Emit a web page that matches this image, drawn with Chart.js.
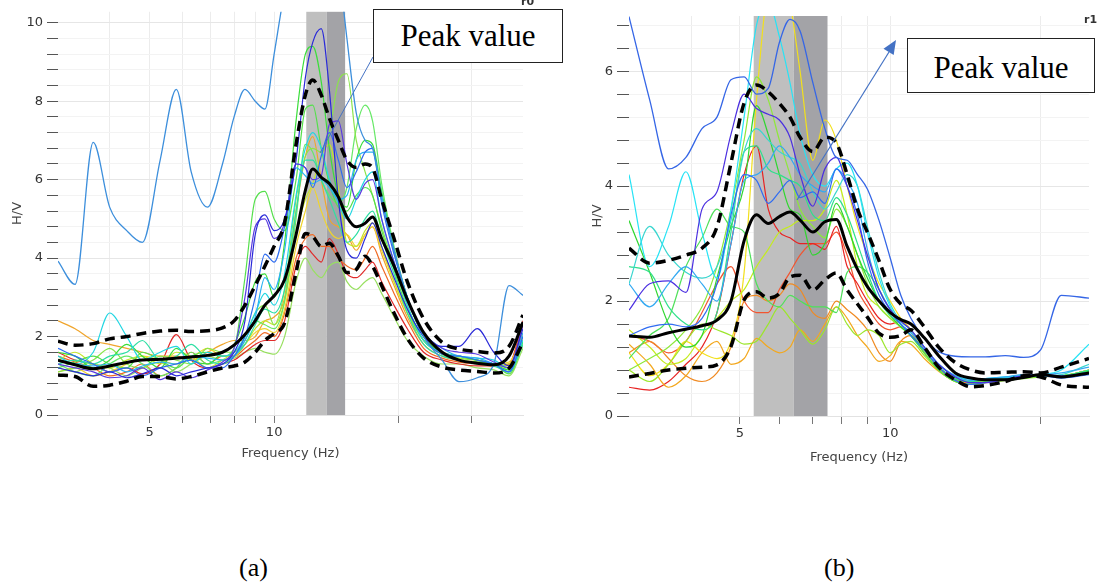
<!DOCTYPE html>
<html>
<head>
<meta charset="utf-8">
<script src="https://cdn.jsdelivr.net/npm/chart.js@4.4.0/dist/chart.umd.min.js"></script>
<style>
  html, body { margin: 0; padding: 0; background: #fff; }
  body { width: 1100px; height: 586px; position: relative; overflow: hidden; }
  #chartA { position: absolute; left: 0; top: 0; }
  #chartB { position: absolute; left: 580px; top: 0; }
  .box { position: absolute; z-index: 6; box-sizing: border-box; border: 1.5px solid #222; background: #fff;
         font-family: 'Liberation Serif', 'Times New Roman', serif; font-size: 31px; color: #000;
         display: flex; align-items: center; justify-content: center; }
  .cap { position: absolute; font-family: 'Liberation Serif', 'Times New Roman', serif; font-size: 26px; color: #000; }
  .tag { position: absolute; font-family: 'DejaVu Sans', sans-serif; font-size: 11px; font-weight: bold; color: #333; }
  svg { position: absolute; left: 0; top: 0; z-index: 5; pointer-events: none; }
</style>
</head>
<body>
<canvas id="chartA" width="540" height="470"></canvas>
<canvas id="chartB" width="520" height="470"></canvas>

<svg width="1100" height="586">
  <line x1="373" y1="57" x2="320" y2="153" stroke="#4472c4" stroke-width="1"/>
  <line x1="797" y1="200" x2="889" y2="52" stroke="#4472c4" stroke-width="1.2"/>
  <polygon points="896,40 893.7,55.1 883.5,48.7" fill="#4472c4"/>
</svg>

<div class="box" style="left:373px;top:9px;width:190px;height:54px;">Peak value</div>
<div class="box" style="left:907px;top:38px;width:188px;height:55px;padding-top:4px;">Peak value</div>
<div class="tag" style="left:521px;top:-5px;">r0</div>
<div class="tag" style="left:1084px;top:13px;">r1</div>
<div class="cap" style="left:239px;top:553px;">(a)</div>
<div class="cap" style="left:824px;top:553px;">(b)</div>

<script>
// ---------- panel (a) ----------
const FREQ_A = [3, 3.3, 3.65, 4, 4.4, 4.8, 5.3, 5.8, 6.3, 6.9, 7.5, 8, 8.5, 9, 9.5, 10, 10.6, 11.3, 11.9, 12.4,
                13, 13.6, 14.3, 15, 15.8, 16.6, 17.3, 18.2, 19.5, 21, 23, 25.5, 28, 31, 34, 37, 40];
const MEAN_A  = [1.40,1.28,1.18,1.25,1.34, 1.40,1.42,1.45,1.48,1.52, 1.60,1.78,2.05,2.40,2.80, 3.04,3.45,4.60,5.73,6.27,
                 6.06,5.90,5.56,5.05,4.80, 4.89,5.05,4.50,3.80,2.95, 2.10,1.60,1.40,1.32,1.28, 1.50,2.37];
const UPPER_A = [1.88,1.78,1.82,1.94,2.00, 2.08,2.14,2.16,2.13,2.15, 2.22,2.40,2.80,3.30,3.80, 4.30,4.90,6.90,8.16,8.54,
                 8.16,7.57,7.00,6.50,6.31, 6.40,6.30,5.50,4.50,3.40, 2.45,1.85,1.68,1.62,1.58, 1.75,2.55];
const LOWER_A = [1.02,0.98,0.73,0.76,0.86, 0.98,0.98,0.92,0.98,1.10, 1.20,1.25,1.35,1.60,1.90, 2.08,2.35,3.63,4.63,4.55,
                 4.30,4.38,4.05,3.63,3.71, 4.05,3.80,3.30,2.60,1.95, 1.45,1.22,1.15,1.11,1.07, 1.19,1.86];
const OUTLIER_A = [3.92,3.33,6.95,5.30,4.70, 4.40,6.50,8.30,6.20,5.30, 6.40,7.60,8.30,8.00,7.80, 9.20,10.8,12.0,13.0,13.5,
                   13.5,13.0,11.5,9.60,7.70, 7.00,6.80,5.50,4.20,3.00, 2.00,1.40,0.85,0.95,1.30, 3.30,3.05];
const A01 = [1.2,1.1,1.0,1.1,0.95, 1.05,1.2,1.0,1.1,1.2, 1.3,1.6,2.4,4.6,5.1, 4.7,5.0,6.5,8.6,9.5, 9.85,8.3,5.5,4.2,4.0, 4.5,4.9,4.3,3.5,2.7, 2.0,1.75,1.75,2.2,1.6, 1.25,2.2];
const A02 = [1.3,1.2,1.1,0.95,1.0, 1.2,0.9,1.1,0.95,1.15, 1.35,1.7,3.0,4.8,5.0, 4.5,4.9,6.4,6.3,6.0, 6.1,7.4,7.5,6.4,5.5, 5.9,6.0,5.0,3.9,2.9, 2.1,1.7,1.6,1.55,1.35, 1.2,2.3];
const A03 = [1.7,1.5,1.3,1.1,1.2, 1.0,1.2,1.3,1.4,1.2, 1.2,1.5,2.0,3.0,4.1, 3.9,4.8,6.4,6.3,5.8, 6.6,7.2,6.5,5.8,6.2, 6.7,6.8,5.4,4.1,3.0, 2.0,1.55,1.5,1.4,1.3, 1.1,2.0];
const A04 = [1.4,1.3,1.25,1.3,1.1, 1.25,1.35,1.3,1.5,1.45, 1.4,1.5,1.9,2.5,3.5, 3.2,4.2,6.3,6.1,5.9, 6.0,5.8,5.5,5.6,6.5, 6.7,6.7,5.6,4.2,3.0, 2.1,1.7,1.5,1.45,1.3, 1.1,2.1];
const A05 = [1.5,1.3,1.6,2.6,2.0, 1.4,1.6,1.75,1.3,1.6, 1.5,1.6,2.0,2.6,3.1, 2.8,3.6,5.6,6.8,7.2, 6.8,6.0,5.4,5.0,5.5, 6.0,6.2,5.0,3.9,2.8, 1.9,1.6,1.5,1.45,1.4, 1.2,1.9];
const A06 = [1.3,1.4,1.3,1.5,1.6, 1.9,1.4,1.5,1.8,1.4, 1.3,1.5,1.8,2.3,2.7, 2.6,3.2,5.2,6.5,6.5, 6.0,5.5,4.9,4.4,4.6, 5.0,5.2,4.5,3.6,2.6, 1.8,1.5,1.4,1.3,1.25, 1.1,1.8];
const A07 = [1.6,1.5,1.2,1.4,1.8, 1.5,1.2,1.7,1.4,1.3, 1.6,1.8,2.5,3.4,3.6, 3.0,4.4,7.5,9.2,9.4, 8.5,6.8,5.6,5.3,6.5, 7.0,6.9,5.7,4.2,3.0, 2.0,1.6,1.5,1.4,1.3, 1.15,1.9];
const A08 = [1.2,1.35,1.5,1.3,1.2, 1.6,1.4,1.2,1.5,1.6, 1.5,1.7,3.5,5.5,5.7, 5.0,4.7,6.0,7.8,7.9, 6.8,5.9,5.3,5.2,5.6, 5.8,5.6,4.7,3.7,2.7, 1.9,1.55,1.4,1.35,1.3, 1.05,1.8];
const A09 = [1.1,1.2,1.4,1.7,1.3, 1.2,1.5,1.4,1.3,1.7, 1.6,1.6,2.0,2.6,2.8, 2.3,3.2,5.5,6.6,6.8, 6.7,7.2,8.5,8.7,7.0, 6.2,5.6,4.8,3.8,2.8, 1.9,1.6,1.45,1.4,1.3, 1.2,2.0];
const A10 = [1.3,1.1,1.0,1.3,1.5, 1.3,1.0,1.2,1.6,1.3, 1.4,1.5,1.9,2.4,2.3, 2.2,2.9,5.0,6.9,6.7, 6.0,5.6,5.4,5.8,7.3, 7.9,7.5,5.9,4.3,3.0, 2.0,1.6,1.5,1.4,1.3, 1.15,1.85];
const A11 = [1.4,1.6,1.3,1.2,1.4, 1.5,1.3,1.6,1.5,1.2, 1.4,1.6,1.8,2.2,2.4, 2.3,2.9,4.6,5.5,5.9, 6.6,6.9,5.8,4.4,4.3, 4.7,4.9,4.3,3.4,2.6, 1.9,1.55,1.45,1.4,1.3, 1.3,1.9];
const A12 = [1.1,1.2,1.0,1.1,1.3, 1.5,1.4,1.3,1.45,1.7, 1.5,1.5,1.8,2.1,2.2, 2.1,2.7,4.3,5.2,5.8, 5.2,4.7,4.5,4.6,4.3, 4.6,4.8,4.2,3.4,2.6, 1.9,1.6,1.5,1.4,1.3, 1.35,2.0];
const A13 = [2.4,2.2,1.9,1.8,1.7, 1.6,1.5,1.5,1.4,1.6, 1.8,1.9,1.9,2.0,2.4, 2.5,3.0,5.2,6.6,7.1, 6.0,5.0,4.8,4.6,4.2, 4.6,4.8,4.1,3.3,2.5, 1.8,1.5,1.4,1.35,1.3, 1.25,2.1];
const A14 = [1.5,1.35,1.2,1.0,1.1, 1.3,1.0,1.2,1.6,1.3, 1.5,1.5,1.7,1.9,2.1, 2.0,2.6,4.0,4.5,4.6, 4.3,4.3,4.0,3.8,3.7, 4.0,4.3,3.8,3.1,2.4, 1.7,1.45,1.35,1.3,1.25, 1.3,2.3];
const A15 = [1.6,1.4,1.3,1.1,1.2, 1.05,1.3,2.05,1.4,1.2, 1.3,1.4,1.6,1.8,1.9, 1.9,2.4,3.8,4.3,4.1, 3.9,4.5,4.1,3.6,3.5, 3.7,3.9,3.4,2.8,2.2, 1.6,1.4,1.3,1.25,1.25, 1.3,2.4];
const A16 = [1.2,1.1,1.3,1.2,1.0, 1.2,1.35,1.1,1.3,1.5, 1.4,1.45,1.6,1.7,1.6, 1.55,2.0,3.4,4.0,3.7, 3.5,3.8,3.9,3.4,3.2, 3.4,3.5,3.1,2.5,1.9, 1.5,1.3,1.3,1.2,1.15, 1.0,1.7];
const CURVES_A = [A01, A02, A03, A04, A05, A06, A07, A08, A09, A10, A11, A12, A13, A14, A15, A16];
const BAND_A = [11.96, 13.41, 14.85];
const X_TICKS_A = [4, 5, 6, 7, 8, 9, 10, 20, 30];
const Y_LABELS_A = [0, 2, 4, 6, 8, 10];

// ---------- panel (b) ----------
const FREQ_B = [3, 3.3, 3.6, 3.9, 4.2, 4.5, 4.8, 5.1, 5.4, 5.7, 6, 6.3, 6.6, 7, 7.4, 7.8, 8.2, 8.6, 9, 9.5,
                10, 10.5, 11, 11.7, 12.5, 13.5, 14.5, 15.5, 17, 18.5, 20, 22, 25];
const MEAN_B  = [1.39,1.37,1.45,1.51,1.57, 1.67,2.00,3.05,3.50,3.35, 3.47,3.55,3.41,3.20,3.38, 3.42,2.95,2.55,2.25,2.00,
                 1.80,1.68,1.60,1.36,1.05, 0.75,0.66,0.63,0.63,0.67, 0.72,0.68,0.75];
const UPPER_B = [2.92,2.66,2.71,2.80,2.92, 3.29,4.40,5.45,5.76,5.64, 5.44,5.20,4.85,4.60,4.85, 4.75,4.20,3.60,3.20,2.70,
                 2.20,1.95,1.84,1.55,1.20, 0.93,0.80,0.75,0.76,0.77, 0.75,0.85,1.00];
const LOWER_B = [0.68,0.74,0.80,0.83,0.85, 0.89,1.21,2.02,2.16,2.05, 2.13,2.42,2.45,2.19,2.37, 2.49,2.19,1.95,1.72,1.44,
                 1.37,1.40,1.50,1.20,0.85, 0.63,0.51,0.53,0.60,0.70, 0.68,0.54,0.50];
const OUTLIER_B = [6.95,5.50,4.30,4.50,5.00, 5.20,5.85,5.90,5.60,5.70, 6.50,6.90,6.70,5.80,5.00, 4.50,4.45,4.20,3.95,3.40,
                   2.75,2.10,1.70,1.35,1.12, 1.04,1.03,1.03,1.05,1.02, 1.15,2.10,2.05];
const B01 = [1.84,2.30,2.35,2.15,3.60, 3.90,4.90,5.60,5.35,5.25, 5.15,4.85,4.20,3.65,4.30, 4.50,4.00,3.40,2.80,2.20, 1.85,1.65,1.50,1.20,0.90, 0.68,0.58,0.58,0.64,0.70, 0.72,0.70,0.76];
const B02 = [1.40,1.55,1.60,1.55,1.70, 2.30,3.50,4.20,4.10,3.70, 3.90,4.10,3.80,3.90,3.70, 4.30,4.00,3.50,2.70,2.10, 1.80,1.60,1.40,1.15,0.85, 0.62,0.55,0.58,0.64,0.70, 0.70,0.66,0.72];
const B03 = [2.30,1.90,2.30,2.60,2.30, 2.00,3.00,4.10,4.20,4.40, 4.70,4.50,4.20,4.00,3.90, 4.30,4.10,3.70,2.90,2.20, 1.85,1.60,1.45,1.20,0.90, 0.70,0.62,0.65,0.68,0.72, 0.72,0.75,0.85];
const B04 = [4.20,2.60,3.30,4.25,3.20, 2.40,3.60,5.20,6.80,7.20, 6.60,5.80,4.90,4.20,4.00, 4.30,4.40,4.00,3.20,2.40, 1.90,1.60,1.45,1.20,0.90, 0.70,0.64,0.65,0.68,0.70, 0.72,0.80,1.25];
const B05 = [2.30,3.30,2.80,2.50,2.40, 2.60,3.40,4.60,5.00,4.80, 4.60,4.50,4.40,3.90,3.60, 3.90,4.20,4.00,3.30,2.50, 1.95,1.65,1.50,1.20,0.90, 0.68,0.62,0.64,0.67,0.70, 0.70,0.72,0.90];
const B06 = [2.60,2.50,1.90,1.60,1.50, 1.80,3.20,4.60,4.70,4.30, 4.20,4.10,4.00,3.50,3.40, 3.80,3.50,3.00,2.50,2.00, 1.75,1.60,1.40,1.15,0.85, 0.65,0.60,0.62,0.66,0.70, 0.70,0.70,0.80];
const B07 = [3.40,2.50,1.60,1.20,1.40, 2.40,3.30,4.00,5.40,4.90, 4.20,3.60,3.50,2.80,3.00, 3.70,3.30,2.80,2.40,2.00, 1.75,1.55,1.40,1.15,0.85, 0.65,0.60,0.62,0.66,0.68, 0.70,0.70,0.78];
const B08 = [1.00,1.40,1.70,2.60,3.10, 3.60,3.30,3.20,2.30,2.00, 1.90,2.10,2.00,1.90,1.90, 1.80,2.50,2.60,2.50,2.20, 1.85,1.60,1.40,1.10,0.80, 0.60,0.55,0.60,0.64,0.68, 0.70,0.70,0.75];
const B09 = [0.80,1.00,1.20,1.50,1.90, 2.60,3.60,4.80,5.90,5.50, 4.80,4.20,3.60,3.30,3.10, 3.60,3.30,2.80,2.30,1.90, 1.70,1.55,1.40,1.10,0.80, 0.60,0.55,0.58,0.62,0.65, 0.68,0.70,0.78];
const B10 = [1.50,1.20,0.90,1.00,1.40, 1.70,2.00,2.20,2.60,2.90, 3.20,3.30,3.40,3.40,3.60, 4.10,3.50,2.60,2.10,1.90, 1.70,1.55,1.40,1.10,0.80, 0.60,0.56,0.60,0.65,0.68, 0.70,0.68,0.75];
const B11 = [0.80,0.60,0.90,1.30,1.60, 1.50,1.40,1.25,1.30,1.60, 1.90,1.70,1.50,1.25,1.50, 1.90,1.60,1.40,1.50,1.40, 1.10,1.25,1.30,1.05,0.80, 0.60,0.55,0.58,0.62,0.66, 0.70,0.70,0.80];
const B12 = [1.10,0.70,0.90,1.30,1.10, 1.00,1.30,2.50,5.50,7.50, 7.80,7.20,6.00,4.45,5.15, 4.80,4.00,3.30,2.80,2.30, 2.00,1.70,1.50,1.15,0.85, 0.65,0.60,0.62,0.66,0.68, 0.70,0.70,0.80];
const B13 = [1.25,0.90,0.50,0.70,1.10, 1.30,0.90,1.00,1.35,1.20, 1.10,1.20,1.50,1.30,1.60, 1.90,1.70,1.40,1.20,0.95, 1.05,1.30,1.25,1.00,0.78, 0.60,0.56,0.60,0.64,0.68, 0.68,0.70,0.78];
const B14 = [1.10,1.30,1.00,0.70,0.60, 0.75,1.20,2.00,2.10,2.00, 2.10,2.30,2.20,1.80,1.70, 2.00,1.85,1.70,1.50,1.10, 0.95,1.30,1.40,1.10,0.80, 0.62,0.58,0.60,0.64,0.68, 0.70,0.70,0.80];
const B15 = [0.50,0.45,0.60,0.90,1.20, 1.80,3.00,4.20,4.70,3.60, 3.20,3.10,3.00,3.00,2.90, 3.30,2.60,2.30,2.00,1.70, 1.60,1.65,1.50,1.15,0.85, 0.65,0.60,0.62,0.66,0.70, 0.70,0.70,0.80];
const B16 = [1.40,1.30,1.10,1.30,1.80, 2.30,2.60,2.00,1.80,1.80, 2.20,2.50,2.80,3.00,3.00, 3.20,2.80,2.20,1.90,1.60, 1.50,1.55,1.45,1.10,0.82, 0.63,0.58,0.60,0.64,0.68, 0.70,0.70,0.78];
const CURVES_B = [B01, B02, B03, B04, B05, B06, B07, B08, B09, B10, B11, B12, B13, B14, B15, B16];
const BAND_B = [5.33, 6.41, 7.49];
const X_TICKS_B = [4, 5, 6, 7, 8, 9, 10, 20];
const Y_LABELS_B = [0, 2, 4, 6];

const X_LABELS = [5, 10];

// line colours (jet-like)
const COLORS_A = ['#2a2ad8', '#5a3be0', '#2d6cf0', '#2ab2f2', '#22d6e2', '#2fdfa4', '#3ade3a', '#55e04c',
                  '#8be44a', '#66e866', '#c4e62a', '#f0d42c', '#f0a52c', '#f06a24', '#e02a2a', '#98e060'];
const COLORS_B = ['#4b2fe0', '#2f6cf2', '#33a9f2', '#27e3f5', '#3ad6cf', '#2fe08c', '#2fd62f', '#4fe05a',
                  '#8ee83a', '#c4ec1f', '#9ce62c', '#f2e01c', '#f3a81e', '#f08a22', '#e82222', '#f25530'];

Chart.defaults.font.family = "'DejaVu Sans', Verdana, sans-serif";

const bandPlugin = {
  id: 'bands',
  beforeDatasetsDraw(chart, args, opts) {
    const {ctx, chartArea: a, scales: {x}} = chart;
    const e = opts.edges;
    ctx.save();
    for (let i = 0; i < e.length - 1; i++) {
      const x0 = x.getPixelForValue(e[i]);
      const x1 = x.getPixelForValue(e[i + 1]);
      ctx.fillStyle = opts.colors[i];
      ctx.fillRect(x0, a.top, x1 - x0, a.bottom - a.top);
    }
    ctx.restore();
  }
};

function pts(freq, vals) {
  return vals.map((v, i) => ({x: freq[i], y: v}));
}

function buildSets(freq, mean, upper, lower, outlier, curves, colors, outColor) {
  const sets = [
    {data: pts(freq, mean), borderColor: '#000', borderWidth: 3},
    {data: pts(freq, upper), borderColor: '#000', borderWidth: 3.5, borderDash: [10, 6]},
    {data: pts(freq, lower), borderColor: '#000', borderWidth: 3.5, borderDash: [10, 6]},
    {data: pts(freq, outlier), borderColor: outColor, borderWidth: 1.3}
  ];
  curves.forEach((c, i) => sets.push({data: pts(freq, c), borderColor: colors[i], borderWidth: 1.2}));
  return sets;
}

function yTicks(max) {
  const t = [];
  for (let i = 0; i * 0.4 <= max + 1e-9; i++) t.push({value: +(i * 0.4).toFixed(1)});
  return t;
}

function makeChart(id, cfg) {
  new Chart(document.getElementById(id), {
    type: 'line',
    data: {datasets: buildSets(cfg.freq, cfg.mean, cfg.upper, cfg.lower, cfg.outlier, cfg.curves, cfg.colors, cfg.outColor)},
    plugins: [bandPlugin],
    options: {
      responsive: false,
      animation: false,
      layout: {padding: cfg.pad},
      elements: {
        point: {radius: 0},
        line: {cubicInterpolationMode: 'monotone', fill: false}
      },
      plugins: {
        legend: {display: false},
        tooltip: {enabled: false},
        bands: {edges: cfg.band, colors: ['#bfbfbf', '#a3a3a7']}
      },
      scales: {
        x: {
          type: 'logarithmic',
          min: cfg.xmin, max: cfg.xmax,
          afterBuildTicks: s => { s.ticks = cfg.xticks.map(v => ({value: v})); },
          afterFit: s => { s.height = cfg.xh; },
          ticks: {
            autoSkip: false, maxRotation: 0, padding: 2, color: '#333', font: {size: 13},
            callback: v => X_LABELS.includes(v) ? String(v) : ''
          },
          grid: {
            color: '#ececec',
            tickColor: c => (c.tick && c.tick.value === 4) ? 'rgba(0,0,0,0)' : '#777',
            tickLength: 8
          },
          border: {color: '#e2e2e2'},
          title: {display: true, text: 'Frequency (Hz)', color: '#444', font: {size: 13}, padding: {top: 0, bottom: cfg.titlePad}}
        },
        y: {
          min: 0, max: cfg.ymax,
          afterBuildTicks: s => { s.ticks = yTicks(cfg.ymax); },
          afterFit: s => { s.width = cfg.yw; },
          ticks: {
            autoSkip: false, padding: 4, color: '#333', font: {size: 13},
            callback: v => cfg.ylabels.includes(v) ? String(v) : ''
          },
          grid: {
            color: c => (c.tick && cfg.ylabels.includes(c.tick.value)) ? '#e6e6e6' : '#f3f3f3',
            tickColor: '#555',
            tickLength: cfg.ytl
          },
          border: {display: false},
          title: {display: true, text: 'H/V', color: '#444', font: {size: 13}, padding: {top: 10, bottom: 0}}
        }
      }
    }
  });
}

makeChart('chartA', {
  freq: FREQ_A, mean: MEAN_A, upper: UPPER_A, lower: LOWER_A, outlier: OUTLIER_A,
  curves: CURVES_A, colors: COLORS_A, outColor: '#3d8fdc',
  band: BAND_A, xticks: X_TICKS_A, ylabels: Y_LABELS_A,
  xmin: 3, xmax: 40, ymax: 10.28,
  pad: {top: 6, right: 17, left: 0, bottom: 0}, xh: 55, yw: 58, ytl: 11, titlePad: 9
});

makeChart('chartB', {
  freq: FREQ_B, mean: MEAN_B, upper: UPPER_B, lower: LOWER_B, outlier: OUTLIER_B,
  curves: CURVES_B, colors: COLORS_B, outColor: '#3566e6',
  band: BAND_B, xticks: X_TICKS_B, ylabels: Y_LABELS_B,
  xmin: 3, xmax: 25, ymax: 6.96,
  pad: {top: 16, right: 11, left: 0, bottom: 0}, xh: 54, yw: 49, ytl: 12, titlePad: 5
});
</script>
</body>
</html>
